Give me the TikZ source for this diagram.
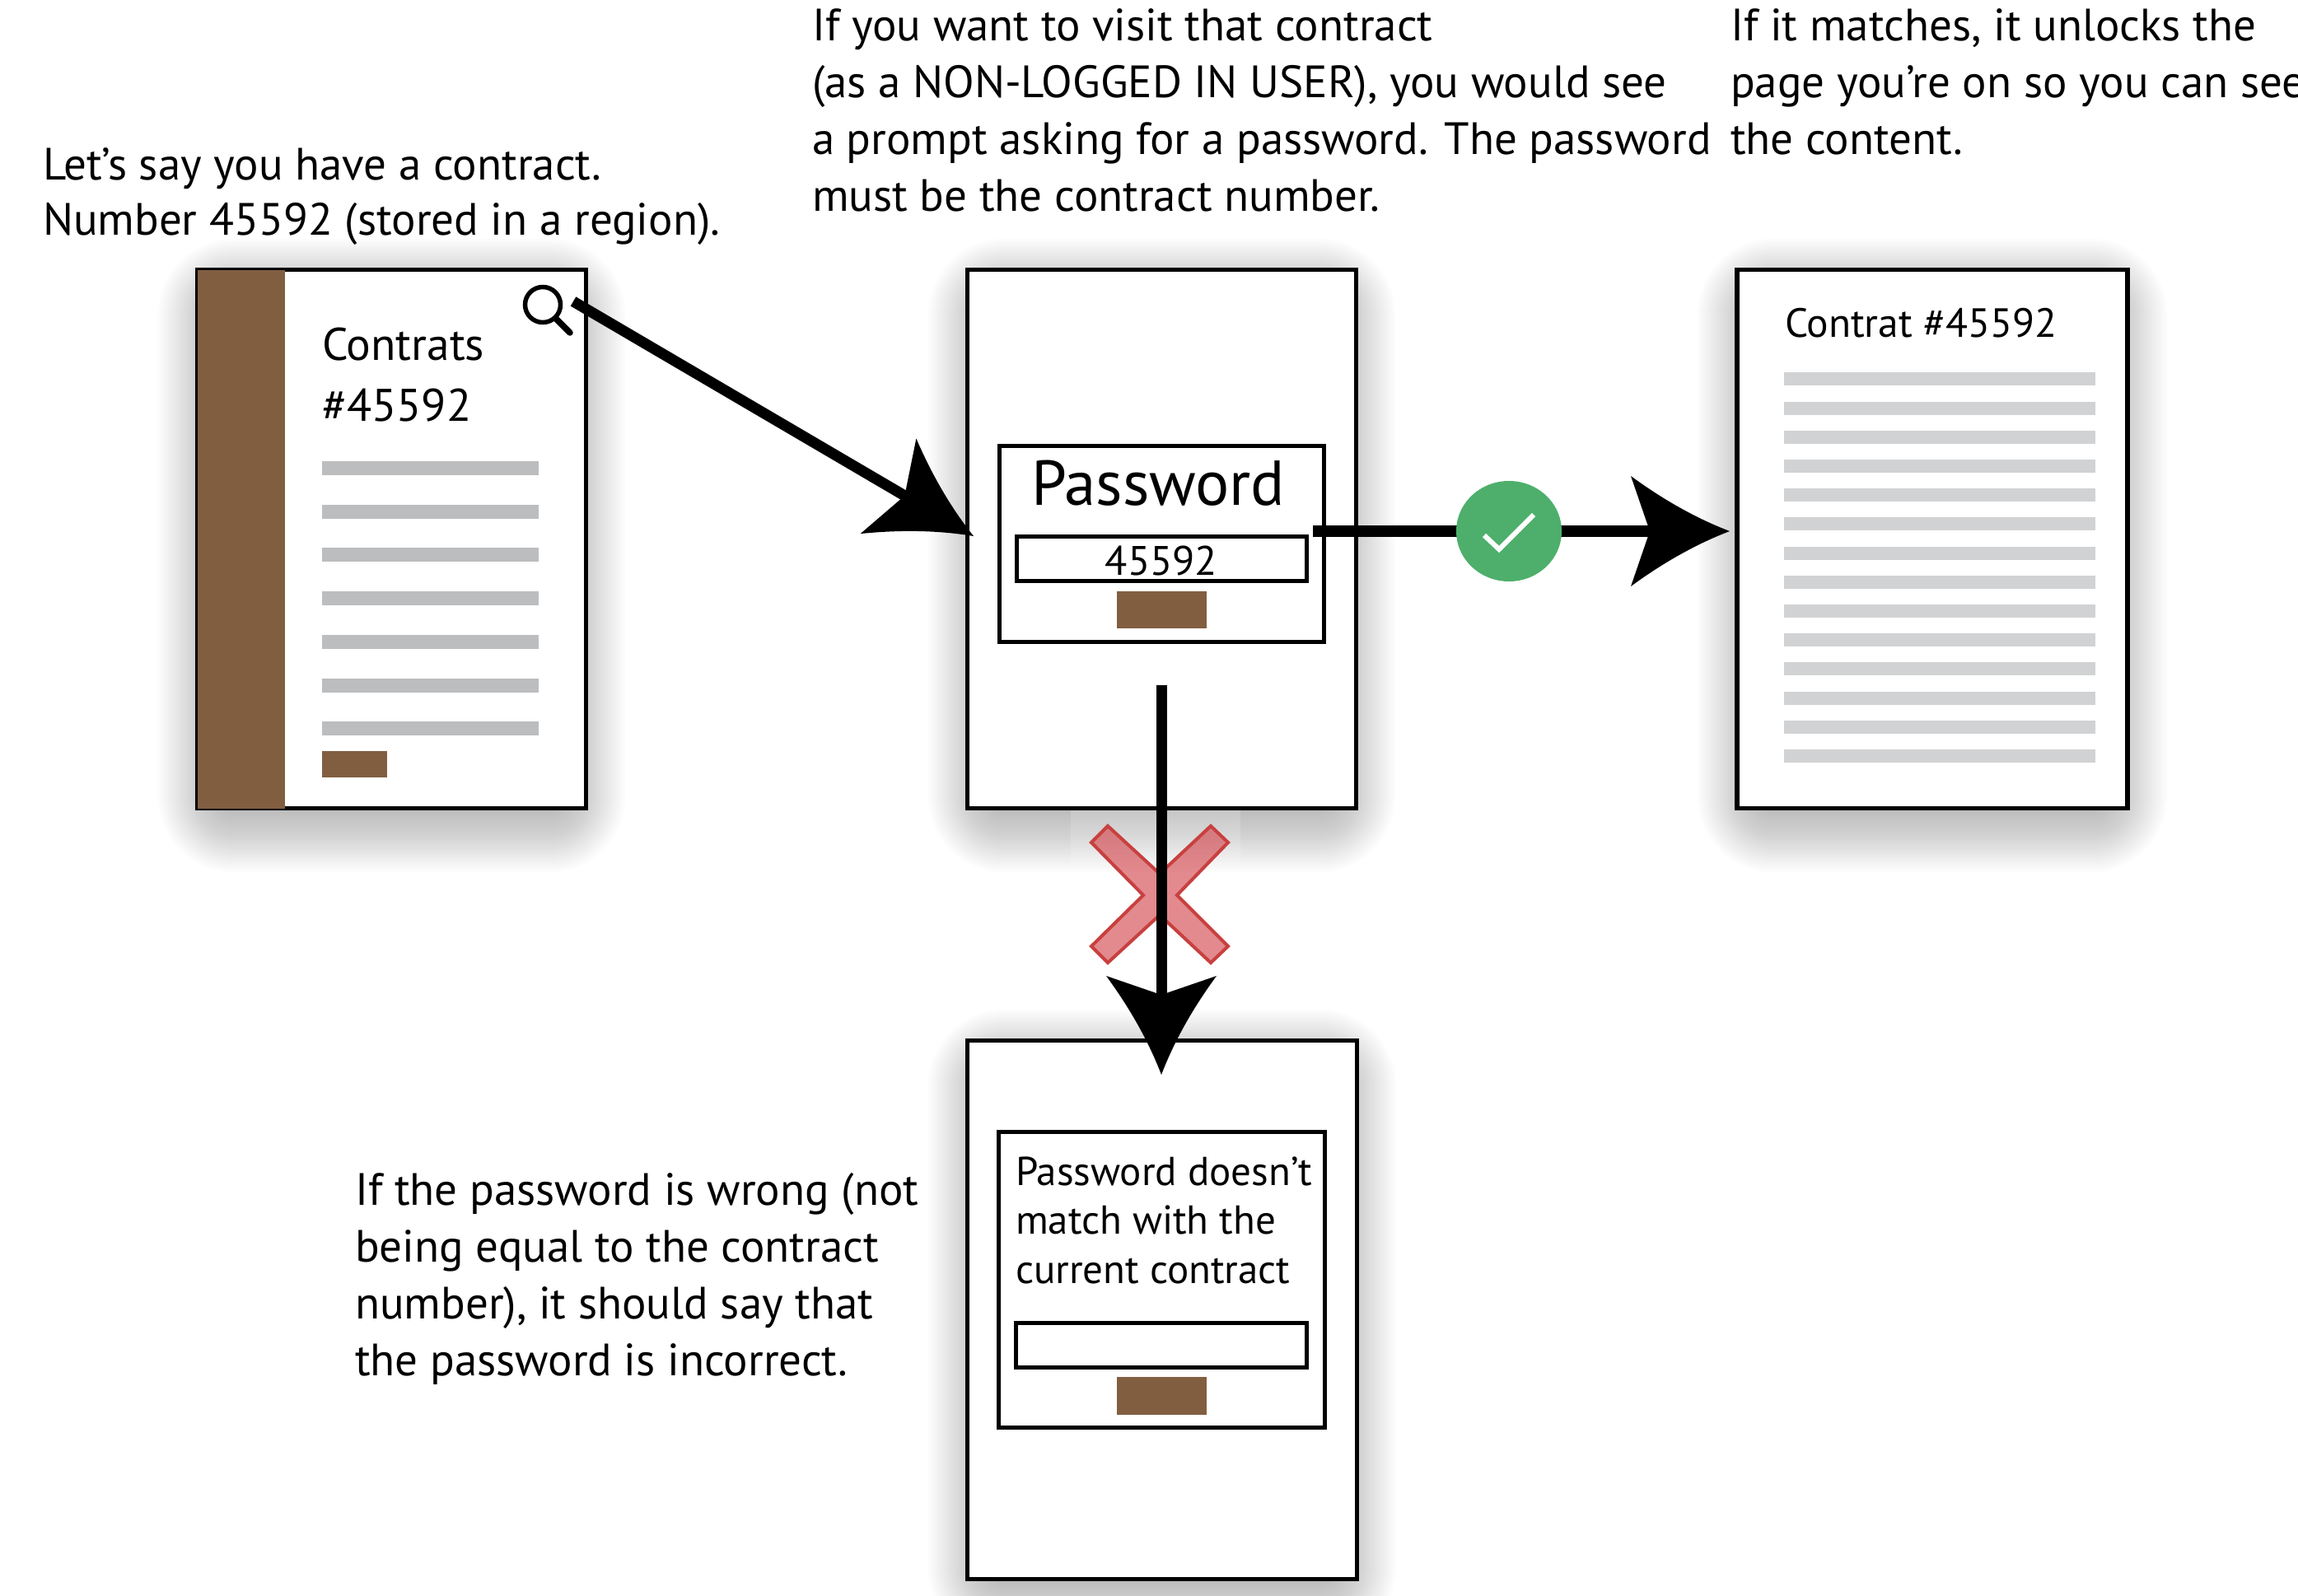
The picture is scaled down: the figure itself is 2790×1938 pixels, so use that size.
\documentclass[tikz,border=0pt]{standalone}
\usepackage{fontspec}
\usetikzlibrary{shapes.geometric}
\setmainfont{PT Sans}
\newcommand{\fsz}[2]{\fontsize{#1}{#2}\selectfont}
\pgfdeclarearrow{
  name=Barb,
  setup code={
    \pgfarrowssettipend{0pt}
    \pgfarrowssetlineend{-96pt}
    \pgfarrowssetbackend{-120pt}
    \pgfarrowshullpoint{0pt}{0pt}
    \pgfarrowshullpoint{-120pt}{67pt}
    \pgfarrowshullpoint{-120pt}{-67pt}
  },
  drawing code={
    \pgfpathmoveto{\pgfqpoint{0pt}{0pt}}
    \pgfpathquadraticcurveto{\pgfqpoint{-60pt}{23pt}}{\pgfqpoint{-120pt}{67pt}}
    \pgfpathlineto{\pgfqpoint{-97pt}{0pt}}
    \pgfpathlineto{\pgfqpoint{-120pt}{-67pt}}
    \pgfpathquadraticcurveto{\pgfqpoint{-60pt}{-23pt}}{\pgfqpoint{0pt}{0pt}}
    \pgfpathclose
    \pgfusepathqfill
  }
}
\definecolor{brownfill}{HTML}{825E41}
\definecolor{barA}{HTML}{BBBDBF}
\definecolor{barB}{HTML}{D1D2D4}
\definecolor{okgreen}{HTML}{4DAF6B}
\definecolor{crossfill}{RGB}{212,75,81}
\definecolor{crossline}{HTML}{C8403F}
\tikzset{
  page/.style={draw=black,fill=white,line width=5.5pt,inner sep=0pt,outer sep=0pt,minimum width=472pt,minimum height=654pt},
  panel/.style={draw=black,fill=white,line width=5.5pt,inner sep=0pt,outer sep=0pt},
  btn/.style={fill=brownfill,inner sep=0pt,outer sep=0pt},
  linea/.style={fill=barA,inner sep=0pt,outer sep=0pt,minimum width=263pt,minimum height=17pt},
  lineb/.style={fill=barB,inner sep=0pt,outer sep=0pt,minimum width=378pt,minimum height=16pt},
  note/.style={inner sep=0pt,outer sep=0pt,anchor=base west,align=left,font=\fsz{55}{69}},
  wire/.style={draw=black,line width=13pt,-{Barb}},
}
% soft drop shadow under a page: #1,#2 = left,right ; #3,#4 = top,bottom
\newcommand{\softshadow}[4]{%
  \foreach \e in {-45,-42,...,45}{%
    \pgfmathsetmacro{\rr}{\e+47}%
    \fill[black,fill opacity=0.010,rounded corners=\rr pt]
      (#1-\e,#3+10-\e) rectangle (#2+\e,#4+30+\e);
  }%
}
\begin{document}
\begin{tikzpicture}[x=1pt,y=-1pt]
\useasboundingbox (0,0) rectangle (2790,1938);
% shadows
\softshadow{237}{714}{325}{984}
\softshadow{1172}{1649}{325}{984}
\softshadow{2106}{2586}{325}{984}
\softshadow{1172}{1650}{1261}{1920}
\fill[white,fill opacity=0.15] (1300,984) rectangle (1506,1050);

% page 1
\node[page] (p1) at (475.5,654.5) {};
\fill[brownfill] (239.5,327.5) rectangle (346,981.5);
\node[note,font=\fsz{55.5}{74}] (p1t) at (391,511) {Contrats\\\#45592};
\foreach \i in {0,...,6}{
  \node[linea,anchor=north west] (la\i) at (391,560+52.7*\i) {};
}
\node[btn,anchor=north west,minimum width=79pt,minimum height=32pt] (p1b) at (391,912) {};
\draw[line width=5.5pt] (659,370) circle (21.5);
\draw[line width=7.5pt,line cap=round] (675,387) -- (692,404);

% page 2
\node[page] (p2) at (1410.5,654.5) {};
\node[panel,minimum width=394pt,minimum height=238pt] (p2i) at (1410.5,660.5) {};
\node[inner sep=0pt,anchor=base,font=\fsz{77}{80}] (p2t) at (1406,613) {Password};
\node[panel,minimum width=352pt,minimum height=54pt] (p2f) at (1410.5,678.5) {};
\node[inner sep=0pt,anchor=base,font=\fsz{50}{60}] (p2n) at (1410,698) {45592};
\node[btn,minimum width=109pt,minimum height=45pt] (p2b) at (1410.5,740.5) {};

% page 3
\node[page,minimum width=474pt] (p3) at (2346,654.5) {};
\node[note,font=\fsz{49.5}{60}] (p3t) at (2167,409) {Contrat \#45592};
\foreach \i in {0,...,13}{
  \node[lineb,anchor=north west] (lb\i) at (2166,452.4+35.2*\i) {};
}

% page 4
\node[page,minimum width=473pt] (p4) at (1411,1590.5) {};
\node[panel,minimum width=396pt,minimum height=359pt] (p4i) at (1410.5,1554) {};
\node[note,font=\fsz{49}{59.5}] (p4t) at (1233,1558) {Password doesn’t\\match with the\\current contract};
\node[panel,minimum width=353pt,minimum height=54pt] (p4f) at (1410,1633.5) {};
\node[btn,minimum width=109pt,minimum height=46pt] (p4b) at (1410.5,1695) {};

% cross
\filldraw[fill=crossfill,fill opacity=0.65,draw=crossline,line width=4pt,line join=miter]
  (1345,1003) -- (1325,1023) -- (1388,1087) -- (1325,1149) -- (1345,1169) -- (1408,1111)
  -- (1470,1169) -- (1491,1149) -- (1429,1087) -- (1491,1023) -- (1470,1003) -- (1408,1061) -- cycle;

% notes
\node[note,font=\fsz{55}{67}] (n1) at (52,285) {Let’s say you have a contract.\\Number 45592 (stored in a region).};
\node[note] (n2) at (986,256) {If you want to visit that contract\\(as a NON-LOGGED IN USER), you would see\\a prompt asking for a password. The password\\must be the contract number.};
\node[note] (n3) at (2101,187) {If it matches, it unlocks the\\page you’re on so you can see\\the content.};
\node[note] (n4) at (431,1670) {If the password is wrong (not\\being equal to the contract\\number), it should say that\\the password is incorrect.};

% connectors
\coordinate (a1s) at (696,366);
\coordinate (a1t) at (1182,651);
\coordinate (a2s) at (1594,645);
\coordinate (a2t) at (2100,645);
\coordinate (a3s) at (1410,832);
\coordinate (a3t) at (1410,1305);
\draw[wire] (a1s) -- (a1t);
\draw[wire,line width=14pt] (a2s) -- (a2t);
\draw[wire] (a3s) -- (a3t);

% ok badge
\node[ellipse,fill=okgreen,minimum width=128pt,minimum height=122pt,inner sep=0pt] (ok) at (1832,645) {};
\draw[white,line width=6pt] (1802,650) -- (1820,667) -- (1862,625);
\end{tikzpicture}
\end{document}
